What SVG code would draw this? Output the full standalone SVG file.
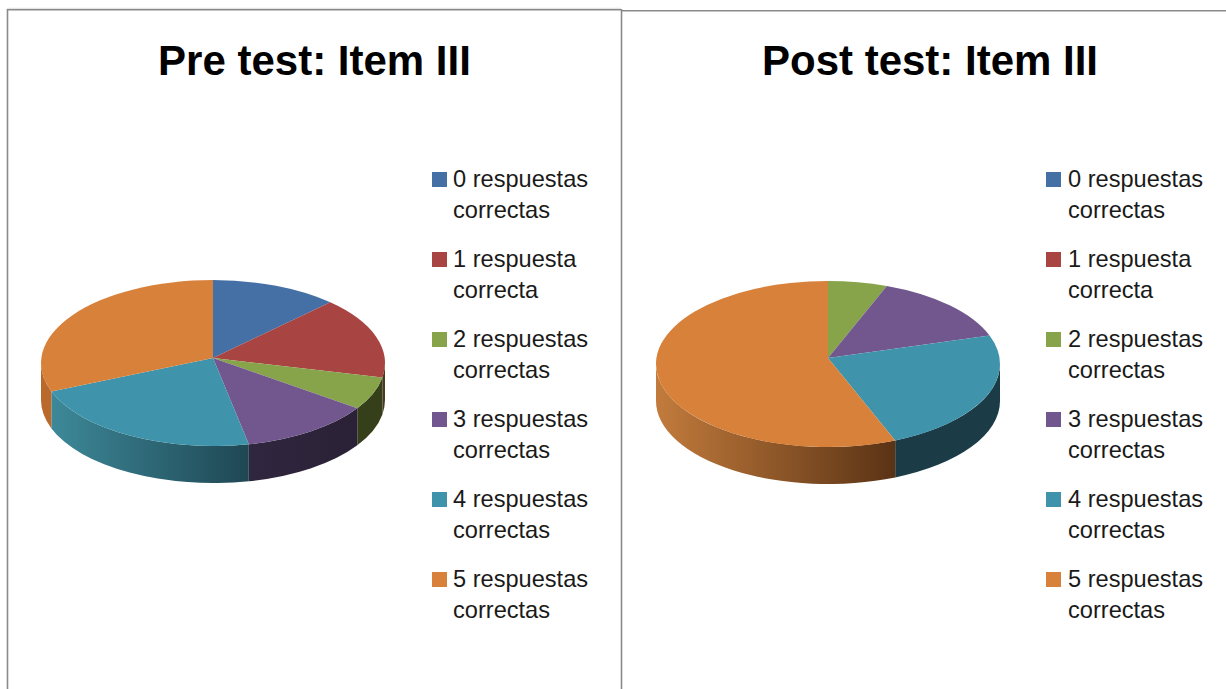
<svg xmlns="http://www.w3.org/2000/svg" width="1226" height="689" viewBox="0 0 1226 689">
<style>
.frame{fill:none;stroke:#8a8a8a;stroke-width:1.6}
.title{font-family:"Liberation Sans",Arial,sans-serif;font-weight:bold;font-size:42px;fill:#000;text-anchor:middle}
.leg{font-family:"Liberation Sans",Arial,sans-serif;font-size:23.6px;fill:#1a1a1a}
.c0{fill:#4570a6}.c1{fill:#a84442}.c2{fill:#87a44b}.c3{fill:#71578e}.c4{fill:#3f93ab}.c5{fill:#d8813b}
</style>
<defs>
<linearGradient id="preTealSide" gradientUnits="userSpaceOnUse" x1="51" y1="0" x2="249" y2="0">
<stop offset="0" stop-color="#3d8999"/><stop offset="1" stop-color="#1f4753"/></linearGradient>
<linearGradient id="prePurpleSide" gradientUnits="userSpaceOnUse" x1="249" y1="0" x2="357" y2="0">
<stop offset="0" stop-color="#30263f"/><stop offset="1" stop-color="#2a2136"/></linearGradient>
<linearGradient id="postOrangeSide" gradientUnits="userSpaceOnUse" x1="656" y1="0" x2="895" y2="0">
<stop offset="0" stop-color="#c27b3c"/><stop offset="1" stop-color="#5a3315"/></linearGradient>
</defs>

<g id="frames">
<line x1="7" y1="8.3" x2="621" y2="8.3" stroke="#dcdcdc" stroke-width="1"/>
<path class="frame" d="M7.5,700 V9.8 H621.5 V700"/>
<path class="frame" d="M621.5,10.8 H1240"/>
</g>

<g id="pre-test-chart">
<text class="title" x="314.5" y="75">Pre test: Item III</text>
<g id="pre-pie">
<path d="M385,363 A172,83 0 0 1 382.4,377.4 L382.4,414.4 A172,83 0 0 0 385,400 Z" fill="#4a3a22"/>
<path d="M382.4,377.4 A172,83 0 0 1 357.3,408.2 L357.3,445.2 A172,83 0 0 0 382.4,414.4 Z" fill="#35401b"/>
<path d="M357.3,408.2 A172,83 0 0 1 248.8,444.2 L248.8,481.2 A172,83 0 0 0 357.3,445.2 Z" fill="url(#prePurpleSide)"/>
<path d="M248.8,444.2 A172,83 0 0 1 51.4,391.4 L51.4,428.4 A172,83 0 0 0 248.8,481.2 Z" fill="url(#preTealSide)"/>
<path d="M51.4,391.4 A172,83 0 0 1 41,363 L41,400 A172,83 0 0 0 51.4,428.4 Z" fill="#b8692b"/>
<path class="c0" d="M213,358 L213,280 A172,83 0 0 1 330.3,302.3 Z"/>
<path class="c1" d="M213,358 L330.3,302.3 A172,83 0 0 1 382.4,377.4 Z"/>
<path class="c2" d="M213,358 L382.4,377.4 A172,83 0 0 1 357.3,408.2 Z"/>
<path class="c3" d="M213,358 L357.3,408.2 A172,83 0 0 1 248.8,444.2 Z"/>
<path class="c4" d="M213,358 L248.8,444.2 A172,83 0 0 1 51.4,391.4 Z"/>
<path class="c5" d="M213,358 L51.4,391.4 A172,83 0 0 1 213,280 Z"/>
</g>
<g id="pre-legend">
<rect class="c0" x="432" y="172" width="15" height="15"/>
<text class="leg" x="453" y="187">0 respuestas</text><text class="leg" x="453" y="218">correctas</text>
<rect class="c1" x="432" y="252" width="15" height="15"/>
<text class="leg" x="453" y="267">1 respuesta</text><text class="leg" x="453" y="298">correcta</text>
<rect class="c2" x="432" y="332" width="15" height="15"/>
<text class="leg" x="453" y="347">2 respuestas</text><text class="leg" x="453" y="378">correctas</text>
<rect class="c3" x="432" y="412" width="15" height="15"/>
<text class="leg" x="453" y="427">3 respuestas</text><text class="leg" x="453" y="458">correctas</text>
<rect class="c4" x="432" y="492" width="15" height="15"/>
<text class="leg" x="453" y="507">4 respuestas</text><text class="leg" x="453" y="538">correctas</text>
<rect class="c5" x="432" y="572" width="15" height="15"/>
<text class="leg" x="453" y="587">5 respuestas</text><text class="leg" x="453" y="618">correctas</text>
</g>
</g>

<g id="post-test-chart">
<text class="title" x="930" y="75">Post test: Item III</text>
<g id="post-pie">
<path d="M1000,364 A172,83 0 0 1 895.2,440.4 L895.2,477.4 A172,83 0 0 0 1000,401 Z" fill="#1b3c47"/>
<path d="M895.2,440.4 A172,83 0 0 1 656,364 L656,401 A172,83 0 0 0 895.2,477.4 Z" fill="url(#postOrangeSide)"/>
<path class="c2" d="M828,358 L828,281 A172,83 0 0 1 886.8,286 Z"/>
<path class="c3" d="M828,358 L886.8,286 A172,83 0 0 1 989.6,335.6 Z"/>
<path class="c4" d="M828,358 L989.6,335.6 A172,83 0 0 1 895.2,440.4 Z"/>
<path class="c5" d="M828,358 L895.2,440.4 A172,83 0 1 1 828,281 Z"/>
</g>
<g id="post-legend">
<rect class="c0" x="1046" y="172" width="15" height="15"/>
<text class="leg" x="1068" y="187">0 respuestas</text><text class="leg" x="1068" y="218">correctas</text>
<rect class="c1" x="1046" y="252" width="15" height="15"/>
<text class="leg" x="1068" y="267">1 respuesta</text><text class="leg" x="1068" y="298">correcta</text>
<rect class="c2" x="1046" y="332" width="15" height="15"/>
<text class="leg" x="1068" y="347">2 respuestas</text><text class="leg" x="1068" y="378">correctas</text>
<rect class="c3" x="1046" y="412" width="15" height="15"/>
<text class="leg" x="1068" y="427">3 respuestas</text><text class="leg" x="1068" y="458">correctas</text>
<rect class="c4" x="1046" y="492" width="15" height="15"/>
<text class="leg" x="1068" y="507">4 respuestas</text><text class="leg" x="1068" y="538">correctas</text>
<rect class="c5" x="1046" y="572" width="15" height="15"/>
<text class="leg" x="1068" y="587">5 respuestas</text><text class="leg" x="1068" y="618">correctas</text>
</g>
</g>
</svg>
